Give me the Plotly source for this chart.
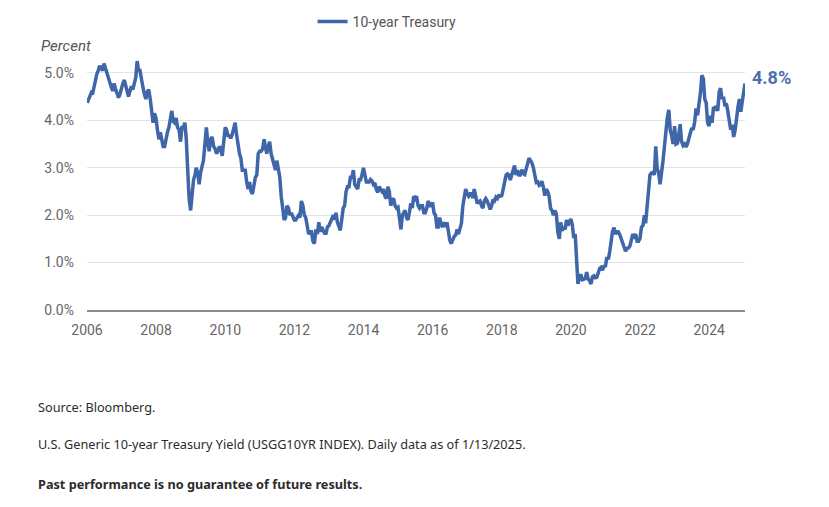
import pandas as pd
import plotly.graph_objects as go

# 10-year treasury yield (two readings a month: mid-month and month-end)
y2006 = [4.53, 4.58, 4.55, 4.70, 4.85, 4.98, 5.05, 5.15, 5.10, 5.05, 5.20, 5.10, 4.98, 4.85, 4.75, 4.70, 4.62, 4.78, 4.65, 4.58, 4.48, 4.55, 4.70]
y2007 = [4.78, 4.85, 4.72, 4.55, 4.50, 4.62, 4.72, 4.65, 4.75, 4.90, 5.25, 5.05, 5.05, 4.80, 4.70, 4.55, 4.45, 4.60, 4.65, 4.45, 4.20, 3.95, 4.15, 4.05]
y2008 = [3.80, 3.60, 3.75, 3.55, 3.45, 3.45, 3.65, 3.75, 3.85, 4.05, 4.20, 3.98, 3.95, 4.05, 3.85, 3.80, 3.55, 3.85, 3.85, 3.95, 3.60, 2.95, 2.35, 2.10]
y2009 = [2.40, 2.75, 2.85, 3.00, 2.90, 2.65, 2.90, 3.05, 3.15, 3.50, 3.85, 3.55, 3.35, 3.60, 3.65, 3.45, 3.40, 3.30, 3.35, 3.45, 3.40, 3.25, 3.55, 3.85]
y2010 = [3.80, 3.65, 3.70, 3.62, 3.70, 3.85, 3.95, 3.70, 3.45, 3.30, 3.20, 2.95, 2.95, 2.95, 2.70, 2.55, 2.70, 2.50, 2.45, 2.60, 2.80, 2.85, 3.30, 3.35]
y2011 = [3.35, 3.40, 3.60, 3.45, 3.30, 3.45, 3.55, 3.30, 3.20, 3.10, 2.95, 3.15, 2.95, 2.80, 2.40, 2.15, 1.90, 1.95, 2.20, 2.15, 2.00, 2.05, 1.95, 1.90]
y2012 = [1.90, 1.95, 2.00, 1.95, 2.30, 2.20, 2.00, 1.95, 1.75, 1.60, 1.65, 1.65, 1.45, 1.40, 1.70, 1.60, 1.85, 1.65, 1.75, 1.70, 1.62, 1.62, 1.75, 1.78]
y2013 = [1.85, 1.95, 2.00, 1.90, 2.05, 1.85, 1.75, 1.68, 1.90, 2.15, 2.20, 2.50, 2.60, 2.60, 2.80, 2.80, 2.95, 2.65, 2.60, 2.55, 2.75, 2.75, 2.85, 3.00]
y2014 = [2.85, 2.70, 2.70, 2.70, 2.75, 2.72, 2.65, 2.68, 2.55, 2.48, 2.60, 2.55, 2.50, 2.55, 2.40, 2.35, 2.60, 2.50, 2.20, 2.32, 2.35, 2.20, 2.15, 2.17]
y2015 = [1.90, 1.70, 2.00, 2.05, 2.10, 1.95, 1.90, 2.05, 2.25, 2.15, 2.40, 2.35, 2.40, 2.20, 2.15, 2.20, 2.20, 2.05, 2.05, 2.15, 2.30, 2.20, 2.20, 2.27]
y2016 = [2.05, 2.00, 1.75, 1.75, 1.95, 1.80, 1.75, 1.85, 1.75, 1.85, 1.60, 1.47, 1.40, 1.50, 1.55, 1.58, 1.70, 1.60, 1.75, 1.83, 2.20, 2.35, 2.55, 2.45]
y2017 = [2.40, 2.45, 2.45, 2.36, 2.55, 2.40, 2.25, 2.28, 2.30, 2.20, 2.15, 2.30, 2.35, 2.30, 2.20, 2.12, 2.20, 2.33, 2.30, 2.38, 2.35, 2.41, 2.40, 2.41]
y2018 = [2.55, 2.70, 2.85, 2.87, 2.85, 2.74, 2.85, 2.95, 3.05, 2.85, 2.95, 2.85, 2.85, 2.96, 2.88, 2.86, 3.00, 3.06, 3.20, 3.15, 3.10, 3.00, 2.85, 2.69]
y2019 = [2.70, 2.63, 2.65, 2.72, 2.60, 2.41, 2.55, 2.50, 2.40, 2.14, 2.10, 2.00, 2.10, 2.02, 1.65, 1.50, 1.85, 1.67, 1.75, 1.70, 1.90, 1.78, 1.85, 1.92]
y2020 = [1.80, 1.52, 1.60, 1.15, 0.55, 0.70, 0.75, 0.64, 0.65, 0.66, 0.80, 0.66, 0.62, 0.55, 0.70, 0.72, 0.68, 0.69, 0.78, 0.88, 0.90, 0.84, 0.92, 0.93]
y2021 = [1.12, 1.07, 1.25, 1.44, 1.65, 1.74, 1.60, 1.65, 1.65, 1.59, 1.50, 1.45, 1.35, 1.24, 1.30, 1.31, 1.35, 1.49, 1.60, 1.55, 1.60, 1.45, 1.45, 1.51]
y2022 = [1.75, 1.78, 2.00, 1.83, 2.15, 2.34, 2.85, 2.89, 2.90, 2.85, 3.45, 2.98, 2.90, 2.65, 2.85, 3.15, 3.45, 3.83, 4.05, 4.22, 3.80, 3.68, 3.50, 3.88]
y2023 = [3.50, 3.52, 3.75, 3.92, 3.55, 3.47, 3.50, 3.44, 3.50, 3.64, 3.75, 3.84, 3.80, 3.96, 4.25, 4.11, 4.35, 4.57, 4.95, 4.88, 4.45, 4.37, 3.95, 3.88]
y2024 = [4.10, 3.95, 4.28, 4.25, 4.30, 4.20, 4.60, 4.68, 4.45, 4.50, 4.30, 4.36, 4.20, 4.03, 3.80, 3.91, 3.65, 3.78, 4.10, 4.28, 4.45, 4.18, 4.40, 4.57]
y2025 = [4.70, 4.78]

start = ["2006-01-03"]
start_val = [4.37]
dates_2025 = ["2025-01-06", "2025-01-13"]

yields = start_val + y2006 + y2007 + y2008 + y2009 + y2010 + y2011 + y2012 + y2013 + y2014 + \
    y2015 + y2016 + y2017 + y2018 + y2019 + y2020 + y2021 + y2022 + y2023 + y2024 + y2025
semi = pd.date_range("2006-01-15", "2024-12-31", freq="SME").strftime("%Y-%m-%d").tolist()
# 2006 list starts at month-end of Jan
dates = start + semi[1:] + dates_2025

y_ticks = [0, 1, 2, 3, 4, 5]
y_labels = ["0.0%", "1.0%", "2.0%", "3.0%", "4.0%", "5.0%"]
x_years = list(range(2006, 2025, 2))

line_col = "#3e66a8"

fig = go.Figure()
fig.add_trace(go.Scatter(x=dates, y=yields, mode="lines", name="10-year Treasury",
                         line=dict(color=line_col, width=3.5)))

#last value label
fig.add_annotation(x=dates[-1], y=yields[-1], text="<b>4.8%</b>", showarrow=False,
                   xanchor="left", xshift=5, yshift=6,
                   font=dict(size=18, color="#4a70ad", family="Roboto"))

fig.add_annotation(xref="paper", yref="paper", x=-0.073, y=1.031, text="<i>Percent</i>",
                   showarrow=False, xanchor="left", yanchor="middle",
                   font=dict(size=15, color="#555555", family="Roboto"))

notes = [
    ("Source: Bloomberg.", -0.379),
    ("U.S. Generic 10-year Treasury Yield (USGG10YR INDEX). Daily data as of 1/13/2025.", -0.523),
    ("<b>Past performance is no guarantee of future results.</b>", -0.680),
]
for txt, ypos in notes:
    fig.add_annotation(xref="paper", yref="paper", x=-0.078, y=ypos, text=txt,
                       showarrow=False, xanchor="left", yanchor="middle",
                       font=dict(size=12.7, color="#2b2b2b", family="Noto Sans"))

# page has an 8px body margin, so the figure is made 16px smaller
fig.update_layout(
    width=813, height=491,
    margin=dict(l=79, r=76, t=46, b=189, autoexpand=False),
    paper_bgcolor="white", plot_bgcolor="white",
    font=dict(family="Roboto", size=14, color="#666666"),
    showlegend=True,
    legend=dict(orientation="h", x=0.456, xanchor="center", y=1.125, yanchor="middle",
                font=dict(size=14, color="#555555"), itemwidth=30),
    xaxis=dict(range=["2006-01-01", "2025-01-13"], tickvals=[f"{y}-01-01" for y in x_years],
               ticktext=[str(y) for y in x_years], showgrid=False,
               showline=True, linecolor="#8c8c8c", linewidth=2, ticks="",
               ticklabelstandoff=6, tickfont=dict(size=14, color="#666666")),
    yaxis=dict(range=[0, 5.4], tickvals=y_ticks, ticktext=y_labels,
               showgrid=True, gridcolor="#e3e3e3", gridwidth=1, zeroline=False,
               ticklabelstandoff=12, tickfont=dict(size=14, color="#666666")),
)

fig.write_html("out.html")
